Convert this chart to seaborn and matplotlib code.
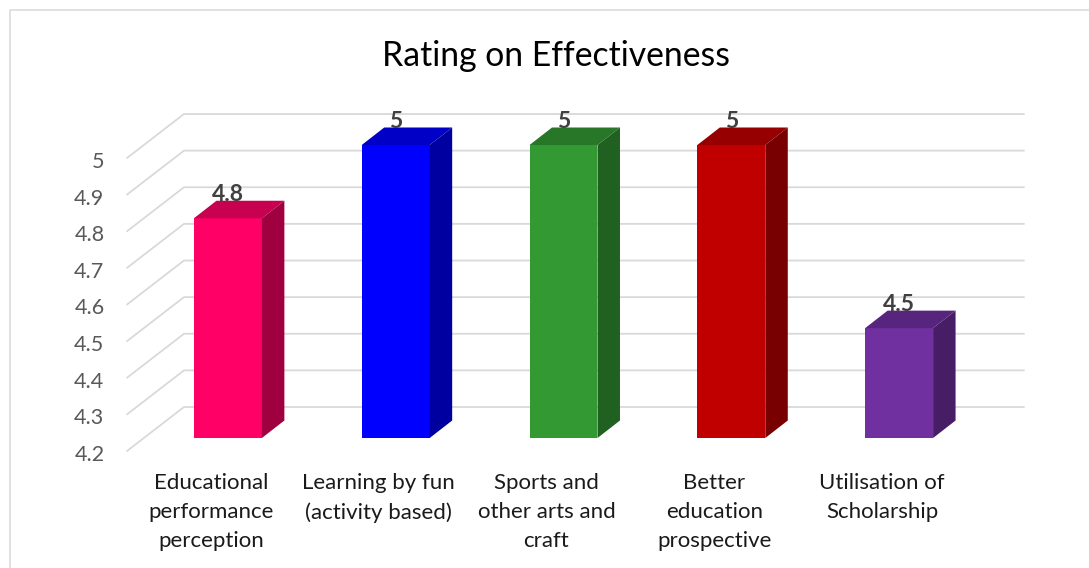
import numpy as np
import pandas as pd
import matplotlib
matplotlib.use("Agg")
import matplotlib.pyplot as plt
from matplotlib.lines import Line2D
from matplotlib.patches import Polygon
from matplotlib.transforms import ScaledTranslation
from matplotlib.colors import to_rgb
import seaborn as sns

# values
categories = ["Educational\nperformance\nperception",
              "Learning by fun\n(activity based)",
              "Sports and\nother arts and\ncraft",
              "Better\neducation\nprospective",
              "Utilisation of\nScholarship"]
ratings = [4.8, 5, 5, 5, 4.5]
bar_colors = ["#FF0066", "#0000FF", "#339933", "#C00000", "#7030A0"]
y_ticks = [4.2, 4.3, 4.4, 4.5, 4.6, 4.7, 4.8, 4.9, 5]
y_tick_labels = ["4.2", "4.3", "4.4", "4.5", "4.6", "4.7", "4.8", "4.9", "5"]

W, H = 1089, 568
DPI = 100
sns.set_theme(style="white")
plt.rcParams['font.family'] = ['Lato', 'DejaVu Sans']

fig = plt.figure(figsize=(W / DPI, H / DPI), dpi=DPI)
# front plane of the bars: 144..983 px across, 4.2 at y=438 and 5 at y=145
ax = fig.add_axes([144 / W, 1 - 438 / H, 839 / W, 293 / H])

df = pd.DataFrame({"cat": categories, "rating": ratings})
sns.barplot(data=df, x="cat", y="rating", hue="cat", palette=bar_colors,
            saturation=1, width=0.405, legend=False, ax=ax, zorder=3,
            linewidth=0, edgecolor="none")
ax.set_xlim(-0.5, 4.5)
ax.set_ylim(4.2, 5)
ax.set_xlabel("")
ax.set_ylabel("")
sns.despine(ax=ax, left=True, bottom=True)

# pixel sizes turned into data units
px_x = 1 / 167.8
px_y = 0.8 / 293
half = 0.405 / 2
depth_x = 22.5 * px_x
depth_y = 17.5 * px_y

# the back wall and side wall gridlines
for v in y_ticks:
    ax.plot([-0.5 - 17 * px_x, -0.5 + 40 * px_x, -0.5 + 880 * px_x],
            [v - 13 * px_y, v + 31 * px_y, v + 31 * px_y],
            color="#D9D9D9", lw=1.3, clip_on=False, zorder=1)

# top and side faces of each bar
for i, (val, col) in enumerate(zip(ratings, bar_colors)):
    rgb = np.array(to_rgb(col))
    top = [(i - half, val), (i + half, val),
           (i + half + depth_x, val + depth_y), (i - half + depth_x, val + depth_y)]
    side = [(i + half, 4.2), (i + half, val),
            (i + half + depth_x, val + depth_y), (i + half + depth_x, 4.2 + depth_y)]
    ax.add_patch(Polygon(top, closed=True, fc=rgb * 0.78, ec="none", clip_on=False, zorder=3))
    ax.add_patch(Polygon(side, closed=True, fc=rgb * 0.63, ec="none", clip_on=False, zorder=3))

# data labels
for cont in ax.containers:
    ax.bar_label(cont, fmt="%g", padding=9.5, fontsize=16.5, fontweight="bold",
                 color="#404040", zorder=5)

# axis text
ax.set_yticks(y_ticks)
ax.set_yticklabels(y_tick_labels)
ax.tick_params(axis="y", length=0, pad=28.5, labelsize=15.5, labelcolor="#595959")
ax.tick_params(axis="x", length=0, pad=25.5, labelsize=16, labelcolor="#1A1A1A")
for lab in ax.get_yticklabels():
    lab.set_transform(lab.get_transform() + ScaledTranslation(0, -15 / DPI, fig.dpi_scale_trans))
for lab in ax.get_xticklabels():
    lab.set_linespacing(1.56)
    lab.set_transform(lab.get_transform() + ScaledTranslation(-17 / DPI, 0, fig.dpi_scale_trans))

fig.text(556 / W, 1 - 56 / H, "Rating on Effectiveness", ha="center", va="center",
         fontsize=24.3, color="#000000")

# chart frame: only the top and left edges fall inside the picture
fig.add_artist(Line2D([9.5 / W, 9.5 / W, 1], [0, 1 - 9.5 / H, 1 - 9.5 / H],
                      transform=fig.transFigure, color="#D9D9D9", lw=1.1))

fig.savefig("out.png", dpi=DPI)
